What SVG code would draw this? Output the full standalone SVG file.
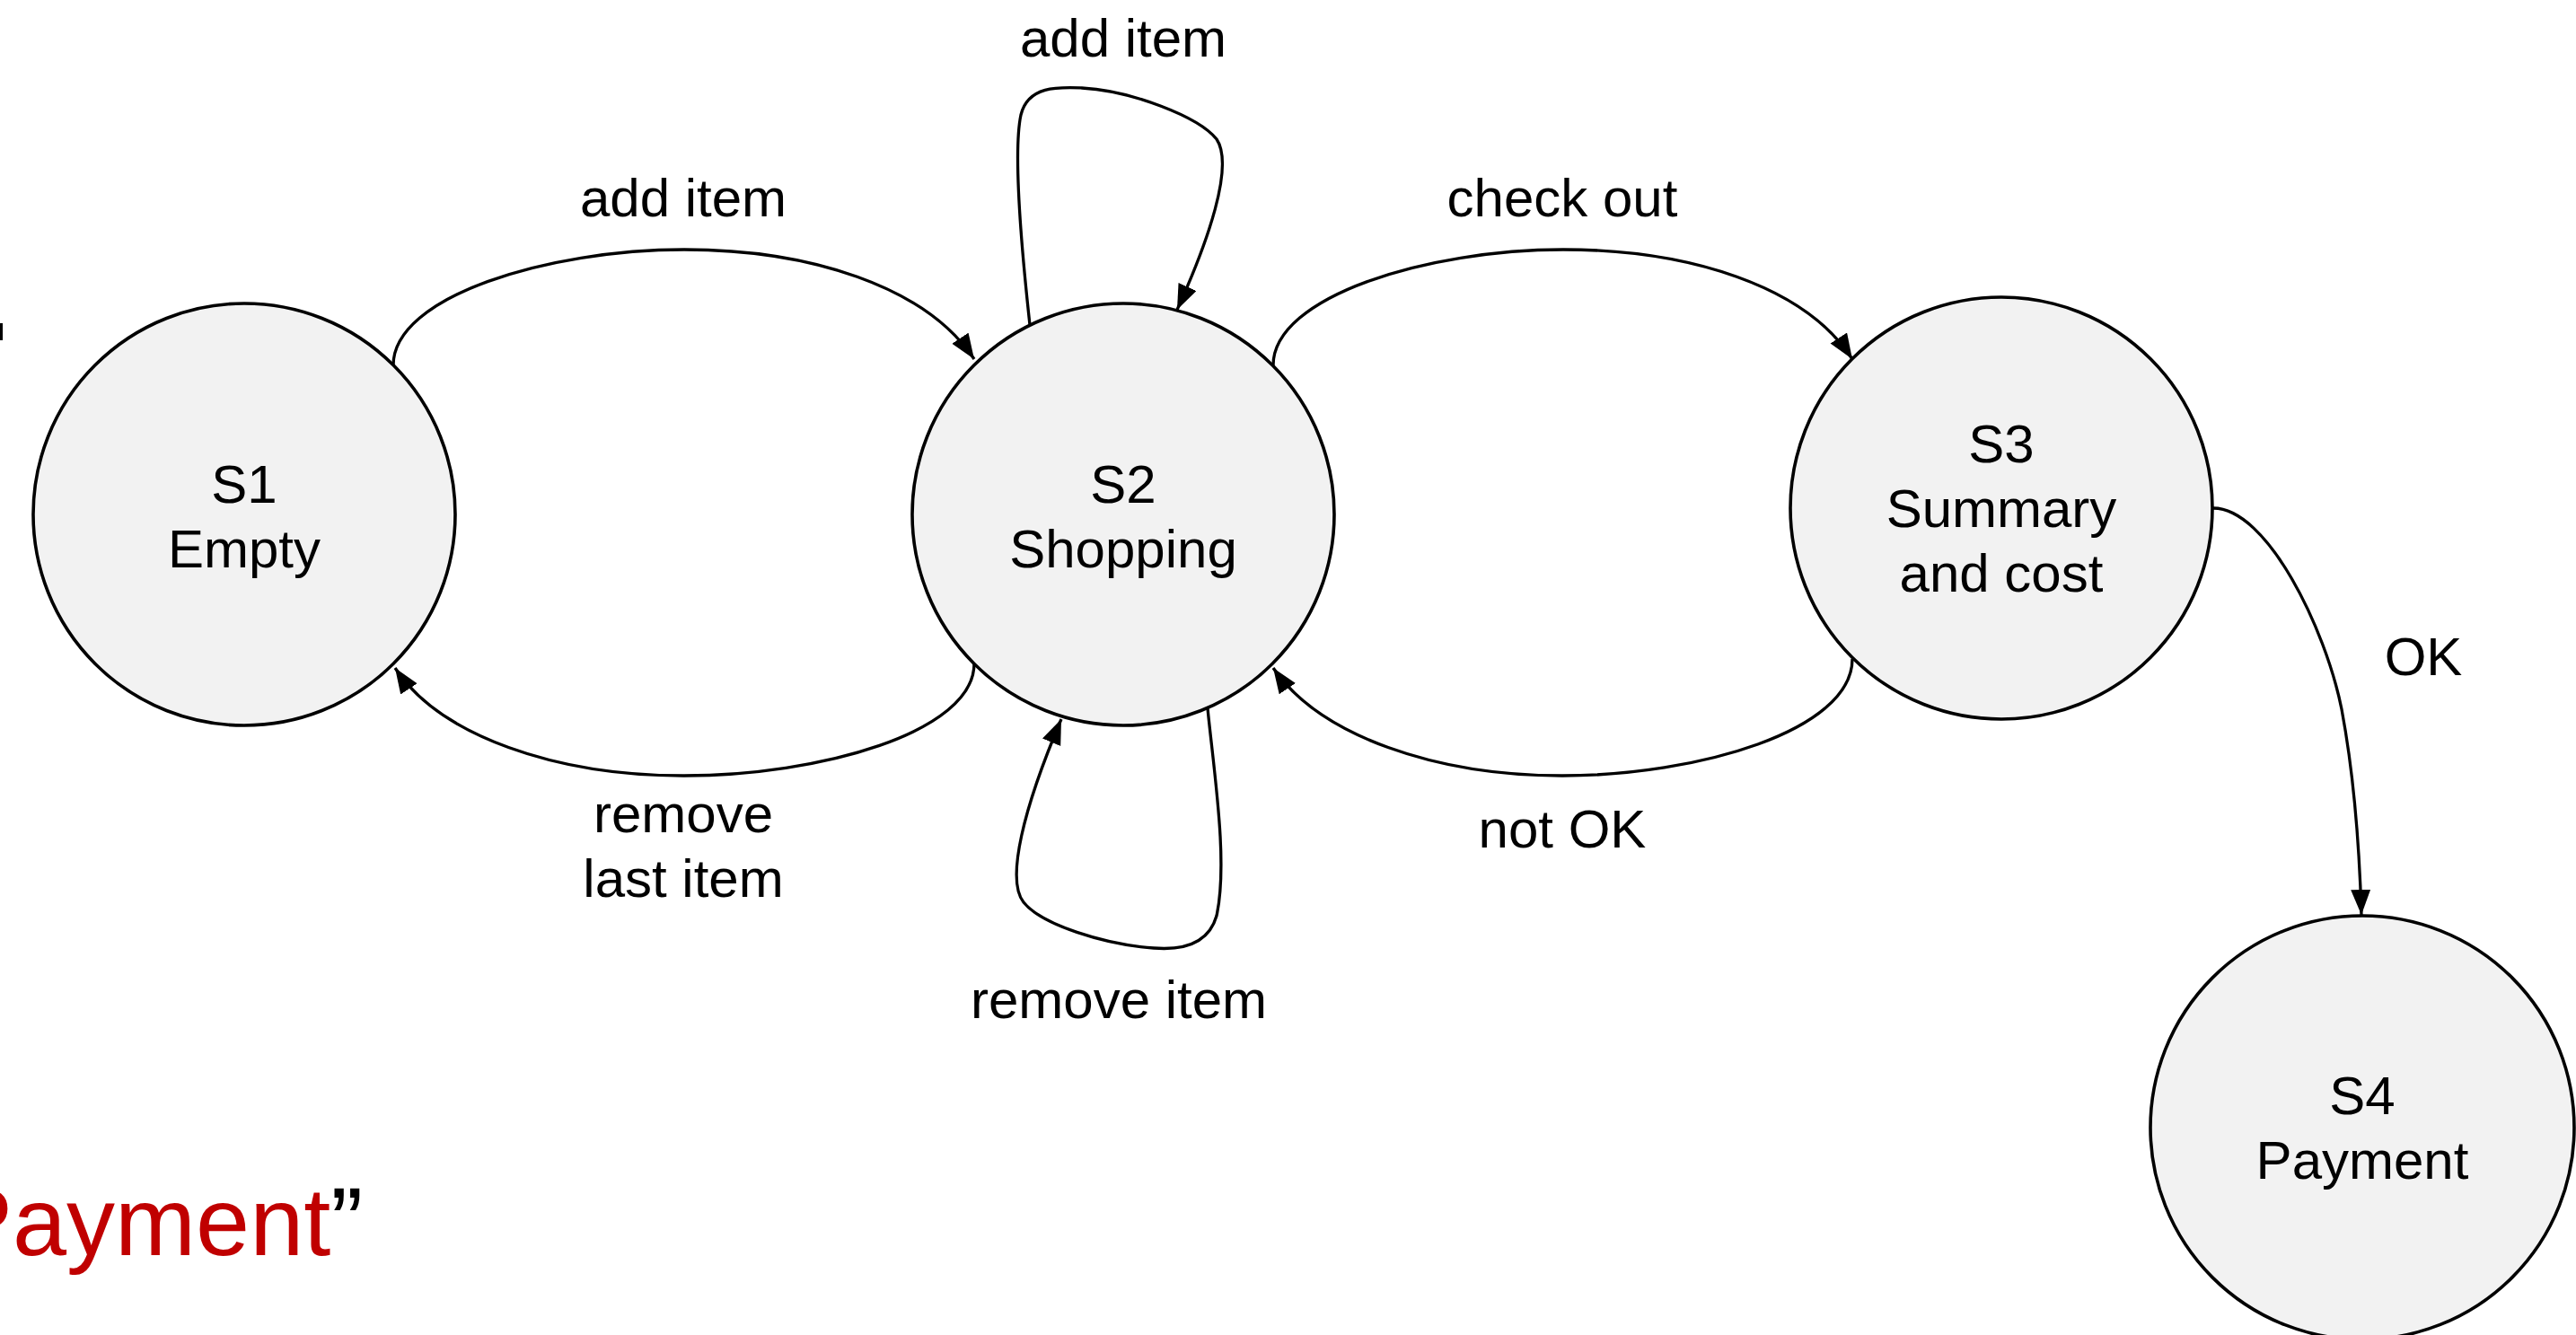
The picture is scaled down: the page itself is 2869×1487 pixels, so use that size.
<svg xmlns="http://www.w3.org/2000/svg" width="2869" height="1487" viewBox="0 0 2869 1487">
  <style>
    .state { fill: #f2f2f2; stroke: #000; stroke-width: 3.6; }
    .lbl { font-family: "Liberation Sans", Arial, sans-serif; font-size: 60px; fill: #000; text-anchor: middle; }
    .edge { fill: none; stroke: #000; stroke-width: 3.3; marker-end: url(#head); }
  </style>
  <defs>
    <marker id="head" markerUnits="userSpaceOnUse" markerWidth="30" markerHeight="24" refX="28" refY="11" orient="auto">
      <path d="M0,0 L28,11 L0,22 Z" fill="#000"/>
    </marker>
  </defs>

  <rect width="2869" height="1487" fill="#fff"/>

  <!-- clipped fragment at the left edge -->
  <rect x="0" y="360" width="3" height="19" fill="#000"/>

  <!-- trailing caption, cut at the left edge -->
  <text x="-58" y="1398" font-family="Liberation Sans, Arial, sans-serif" font-size="108"><tspan fill="#c00000">Payment</tspan><tspan fill="#000">”</tspan></text>

  <g id="connectors">
    <!-- S1 -> S2 : add item -->
    <path class="edge" d="M438,407 C438,330 610,278 762,278 C900,278 1030,318 1085,400"/>
    <!-- S2 -> S1 : remove last item -->
    <path class="edge" d="M1085,739 C1085,816 912,864 761,864 C620,864 490,820 440,744"/>
    <!-- S2 -> S3 : check out -->
    <path class="edge" d="M1418,407 C1418,330 1590,278 1741,278 C1880,278 2010,318 2063,400"/>
    <!-- S3 -> S2 : not OK -->
    <path class="edge" d="M2063,734 C2063,814 1890,864 1740,864 C1600,864 1470,820 1418,744"/>
    <!-- S2 self loop : add item -->
    <path class="edge" d="M1147,362 C1138,280 1128,170 1137,128 C1145,95 1180,97 1205,98 C1260,101 1335,130 1355,155 C1375,185 1345,270 1311,345"/>
    <!-- S2 self loop : remove item -->
    <path class="edge" d="M1345,789 C1352,860 1368,960 1355,1020 C1345,1055 1310,1058 1285,1056 C1230,1052 1160,1030 1140,1005 C1120,980 1140,900 1182,801"/>
    <!-- S3 -> S4 : OK -->
    <path class="edge" d="M2465,566 C2525,566 2590,700 2608,790 C2623,870 2628,950 2630,1019"/>
  </g>

  <g id="edge-labels">
    <text class="lbl" x="761" y="241">add item</text>
    <text class="lbl" x="761" y="927">remove</text>
    <text class="lbl" x="761" y="999">last item</text>
    <text class="lbl" x="1740" y="241">check out</text>
    <text class="lbl" x="1740" y="944">not OK</text>
    <text class="lbl" x="1251" y="63">add item</text>
    <text class="lbl" x="1246" y="1134">remove item</text>
    <text class="lbl" x="2699" y="752">OK</text>
  </g>

  <g id="S1">
    <circle class="state" cx="272" cy="573" r="235"/>
    <text class="lbl" x="272" y="560">S1</text>
    <text class="lbl" x="272" y="632">Empty</text>
  </g>

  <g id="S2">
    <circle class="state" cx="1251" cy="573" r="235"/>
    <text class="lbl" x="1251" y="560">S2</text>
    <text class="lbl" x="1251" y="632">Shopping</text>
  </g>

  <g id="S3">
    <circle class="state" cx="2229" cy="566" r="235"/>
    <text class="lbl" x="2229" y="515">S3</text>
    <text class="lbl" x="2229" y="587">Summary</text>
    <text class="lbl" x="2229" y="659">and cost</text>
  </g>

  <g id="S4">
    <circle class="state" cx="2631" cy="1256" r="236"/>
    <text class="lbl" x="2631" y="1241">S4</text>
    <text class="lbl" x="2631" y="1313">Payment</text>
  </g>
</svg>
